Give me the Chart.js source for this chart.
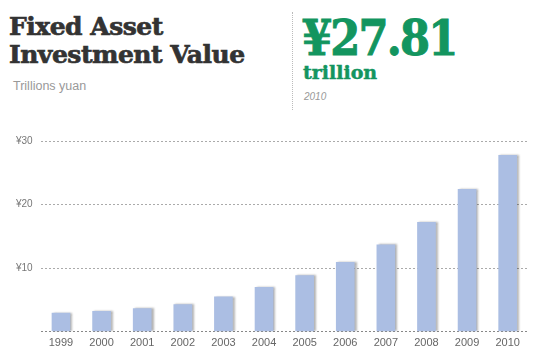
<!DOCTYPE html>
<html>
<head>
<meta charset="utf-8">
<script src="https://cdn.jsdelivr.net/npm/chart.js@4"></script>
<style>
  body { margin: 0; background: #fff; width: 543px; height: 359px; overflow: hidden; position: relative; font-family: "Liberation Sans", Arial, sans-serif; }
  .title { position: absolute; left: 9px; top: 13px; font-family: "DejaVu Serif", serif; font-weight: bold; font-size: 25px; line-height: 28px; color: #333; letter-spacing: -0.5px; -webkit-text-stroke: 0.7px #333; }
  .sub { position: absolute; left: 13px; top: 79px; font-size: 12.5px; color: #999; }
  .sep { position: absolute; left: 292px; top: 12px; height: 98px; border-left: 1px dotted #bbb; }
  .big { position: absolute; left: 302px; top: 11px; font-family: "DejaVu Serif", serif; font-weight: bold; font-size: 48px; line-height: 54px; color: #13955f; letter-spacing: -2px; transform: scaleX(0.9); transform-origin: left top; -webkit-text-stroke: 1px #13955f; white-space: nowrap; }
  .unit { position: absolute; left: 303px; top: 61px; font-family: "DejaVu Serif", serif; font-weight: bold; font-size: 19px; color: #13955f; -webkit-text-stroke: 0.5px #13955f; }
  .year { position: absolute; left: 304px; top: 91px; font-size: 10px; font-style: italic; color: #999; }
  #wrap { position: absolute; left: 0; top: 127px; width: 543px; height: 232px; }
</style>
</head>
<body>
<div class="title">Fixed Asset<br>Investment Value</div>
<div class="sub">Trillions yuan</div>
<div class="sep"></div>
<div class="big">¥27.81</div>
<div class="unit">trillion</div>
<div class="year">2010</div>
<div id="wrap"><canvas id="myChart"></canvas></div>
<script>
const years = ["1999", "2000", "2001", "2002", "2003", "2004", "2005", "2006", "2007", "2008", "2009", "2010"];
const values = [2.99, 3.29, 3.72, 4.35, 5.55, 7.05, 8.88, 10.99, 13.73, 17.28, 22.46, 27.81];
const yTicks = [0, 10, 20, 30];

const barColor = "#abbee3";

// soft shadow on the right side of every bar
const barShadow = {
    id: "barShadow",
    beforeDatasetDraw(chart) {
        const ctx = chart.ctx;
        ctx.save();
        ctx.shadowColor = "rgba(0,0,0,0.3)";
        ctx.shadowOffsetX = 2;
        ctx.shadowOffsetY = 0;
        ctx.shadowBlur = 2;
    },
    afterDatasetDraw(chart) {
        chart.ctx.restore();
    },
};

const ctx = document.getElementById("myChart");

new Chart(ctx, {
    type: "bar",
    data: {
        labels: years,
        datasets: [
            {
                data: values,
                backgroundColor: barColor,
                borderWidth: 0,
                barPercentage: 0.46,
                categoryPercentage: 1,
            },
        ],
    },
    options: {
        responsive: true,
        maintainAspectRatio: false,
        animation: false,
        layout: { padding: { left: 8, right: 15, top: 9, bottom: 4 } },
        plugins: {
            legend: { display: false },
            tooltip: { enabled: false },
        },
        scales: {
            x: {
                grid: { display: false, drawTicks: false },
                border: { display: false },
                ticks: { color: "#666", font: { size: 11, family: "Liberation Sans" }, padding: 5 },
            },
            y: {
                min: 0,
                max: 30,
                afterBuildTicks(axis) {
                    axis.ticks = yTicks.map((v) => ({ value: v }));
                },
                grid: {
                    color: (c) => (c.tick.value === 0 ? "#888" : "#aaa"),
                    drawTicks: false,
                },
                border: { display: false, dash: [2, 2] },
                ticks: {
                    color: "#777",
                    padding: 8,
                    font: { size: 10, family: "Liberation Sans" },
                    callback: (v) => (v === 0 ? "" : "¥" + v),
                },
            },
        },
    },
    plugins: [barShadow],
});
</script>
</body>
</html>
